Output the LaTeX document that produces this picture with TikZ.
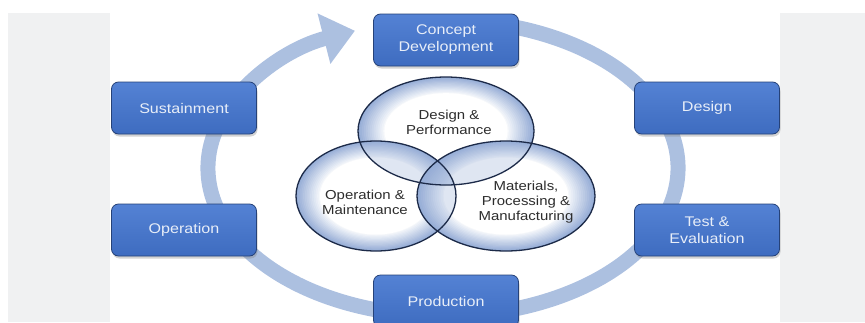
\documentclass[tikz,border=0pt]{standalone}
\usepackage{fontspec}
\setmainfont{Liberation Sans}[FakeStretch=1.15]
\usetikzlibrary{positioning}
\usetikzlibrary{shadows,arrows.meta}
\definecolor{panelgray}{RGB}{240,241,242}
\definecolor{ringblue}{RGB}{172,192,224}
\definecolor{boxblue}{RGB}{62,108,192}
\definecolor{boxtop}{RGB}{84,130,212}
\definecolor{boxedge}{RGB}{38,66,120}
\definecolor{boxtext}{RGB}{232,238,248}
\definecolor{vennblue}{RGB}{150,173,214}
\definecolor{vennedge}{RGB}{28,42,72}
\definecolor{venntext}{RGB}{45,45,45}
\newcommand{\vennset}[3]{%
  \foreach \k [evaluate=\k as \s using 1-0.022*\k,
               evaluate=\k as \c using int(100-7*\k)] in {0,...,13}
    \fill[vennblue!\c!white] #1 ellipse[x radius=#2*\s,y radius=#3*\s];
  \fill[white] #1 ellipse[x radius=#2*0.7,y radius=#3*0.7];}

\begin{document}
\begin{tikzpicture}[x=1pt,y=1pt,every node/.style={outer sep=0pt},
		stagebox/.style={draw=boxedge,line width=0.8pt,rounded corners=7pt,
		top color=boxtop,bottom color=boxblue,minimum width=145pt,
		minimum height=52pt,text=boxtext,align=center,
		font=\fontsize{14}{17}\selectfont,
		drop shadow={opacity=.35,shadow xshift=1pt,shadow yshift=-2.5pt}},
		ring/.style={draw=ringblue,line width=15pt},
		lens/.style={fill=vennblue,fill opacity=.3},
		vennline/.style={draw=vennedge,line width=1.3pt},
		venntxt/.style={text=venntext,align=center,
		font=\fontsize{13}{15}\selectfont},
		]
		\useasboundingbox (0,0) rectangle (865,-322);
		\clip (0,0) rectangle (865,-322);
		\fill[panelgray] (8,-13) rectangle (110,-322);
		\fill[panelgray] (780,-13) rectangle (865,-322);

		\draw[ring,-{Triangle[width=50pt,length=32pt,color=ringblue]}]
		 (443,-168) ++(75:235pt and 148pt)
		 arc[start angle=75,end angle=-248,x radius=235pt,y radius=148pt];

		\vennset{(446,-131)}{88pt}{54pt}
		\vennset{(376,-196)}{80pt}{55pt}
		\vennset{(506,-196)}{89pt}{55pt}
		\begin{scope}
		 \clip (446,-131) ellipse[x radius=88pt,y radius=54pt];
		 \fill[lens] (376,-196) ellipse[x radius=80pt,y radius=55pt];
		 \fill[lens] (506,-196) ellipse[x radius=89pt,y radius=55pt];
		\end{scope}
		\begin{scope}
		 \clip (376,-196) ellipse[x radius=80pt,y radius=55pt];
		 \fill[lens] (506,-196) ellipse[x radius=89pt,y radius=55pt];
		\end{scope}
		\draw[vennline] (446,-131) ellipse[x radius=88pt,y radius=54pt];
		\draw[vennline] (376,-196) ellipse[x radius=80pt,y radius=55pt];
		\draw[vennline] (506,-196) ellipse[x radius=89pt,y radius=55pt];

		\node[venntxt] (perf) at (449,-122) {Design \&\\Performance};
		\node[venntxt] (maint) at (365,-202) {Operation \&\\Maintenance};
		\node[venntxt] (manuf) at (526,-202) {Materials,\\Processing \&\\Manufacturing};

		\node[stagebox] (concept) at (446,-40) {Concept\\Development};
		\node[stagebox] (design) at (707,-108) {Design};
		\node[stagebox,below=70pt of design] (test) {Test \&\\Evaluation};
		\node[stagebox] (production) at (446,-301) {Production};
		\node[stagebox] (sustain) at (184,-108) {Sustainment};
		\node[stagebox,below=70pt of sustain] (operation) {Operation};

\end{tikzpicture}
\end{document}
